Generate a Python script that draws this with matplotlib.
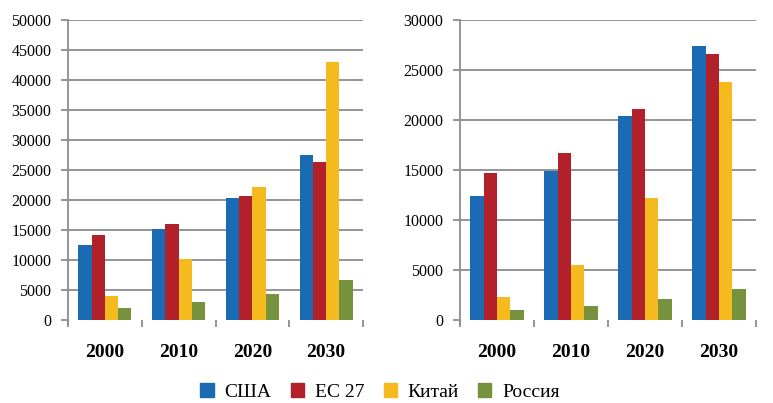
import matplotlib
matplotlib.use("Agg")
import matplotlib.pyplot as plt
import numpy as np
from matplotlib.patches import Patch

plt.rcParams['font.family'] = ['Liberation Serif', 'DejaVu Serif']

years = ["2000", "2010", "2020", "2030"]
series = ["США", "ЕС 27", "Китай", "Россия"]
colors = ["#1A6AB4", "#B2202A", "#F5BA1E", "#76923C"]

left_values = {
    "США":    [12500, 15100, 20300, 27500],
    "ЕС 27":  [14200, 16000, 20700, 26300],
    "Китай":  [4000, 10100, 22200, 43000],
    "Россия": [2000, 3000, 4300, 6700],
}
right_values = {
    "США":    [12400, 14900, 20400, 27400],
    "ЕС 27":  [14700, 16700, 21100, 26600],
    "Китай":  [2300, 5500, 12200, 23800],
    "Россия": [1000, 1400, 2100, 3100],
}

W, H = 773, 403
fig = plt.figure(figsize=(W/100, H/100), dpi=100)
GRAY = "#8C8C8C"

def make_ax(x0, x1, y0, y1):
    return fig.add_axes([x0/W, 1 - y1/H, (x1-x0)/W, (y1-y0)/H])

def draw(ax, vals, ymax, step):
    n = len(series)
    bw = 0.18
    x = np.arange(len(years))
    for i, s in enumerate(series):
        ax.bar(x + (i - (n-1)/2) * bw, vals[s], width=bw, color=colors[i], zorder=3)
    ax.set_xlim(-0.5, len(years) - 0.5)
    ax.set_ylim(0, ymax)
    ticks = np.arange(step, ymax + 1, step)
    ax.set_yticks(np.arange(0, ymax + 1, step))
    ax.set_yticklabels([str(v) for v in range(0, ymax + 1, step)], fontsize=11.5)
    for t in ticks:
        ax.axhline(t, color=GRAY, linewidth=1.3, zorder=0)
    ax.set_xticks(np.arange(-0.5, len(years), 1.0))
    ax.set_xticklabels([])
    ax.set_xticks(x, minor=True)
    ax.set_xticklabels(years, minor=True, fontsize=14, fontweight="bold")
    ax.tick_params(axis="x", which="minor", length=0, pad=17)
    ax.tick_params(axis="x", which="major", length=5, color=GRAY, width=1.3)
    ax.tick_params(axis="y", length=5, color=GRAY, width=1.3, pad=7)
    for sp in ["top", "right", "bottom"]:
        ax.spines[sp].set_visible(False)
    ax.spines["left"].set_color(GRAY)
    ax.spines["left"].set_linewidth(1.3)
    ax.spines["left"].set_bounds(-ymax * 0.013, ymax)
    ax.spines["left"].set_clip_on(False)

ax1 = make_ax(68, 363, 20, 320)
draw(ax1, left_values, 50000, 5000)
ax2 = make_ax(460, 756, 20, 320)
draw(ax2, right_values, 30000, 5000)

handles = [Patch(color=c, label=s) for c, s in zip(colors, series)]
fig.legend(handles=handles, loc="center", bbox_to_anchor=(380/W, 1 - 392/H),
           ncol=4, frameon=False, fontsize=14, handlelength=0.68, handleheight=0.68,
           columnspacing=1.0, handletextpad=0.55)

fig.savefig("out.png", dpi=100)
